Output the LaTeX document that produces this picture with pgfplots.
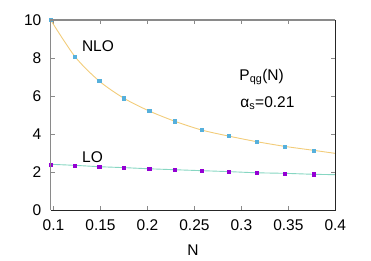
\documentclass[border=0pt]{standalone}
\usepackage{pgfplots}
\pgfplotsset{compat=1.18}
\usetikzlibrary{calc}
\usepackage{fontspec}
\setmainfont{Liberation Sans}
\definecolor{nloline}{HTML}{F2CC7A}
\definecolor{nlomark}{HTML}{56B0DC}
\definecolor{loline}{HTML}{86D6C2}
\definecolor{lomark}{HTML}{9400D3}
\definecolor{bordgray}{HTML}{8A8A8A}
\begin{document}
\fontsize{15.5}{18}\selectfont
\begin{tikzpicture}
\begin{axis}[
  name=ax,
  scale only axis,
  width=284.6pt, height=190pt,
  xmin=0.097, xmax=0.4,
  ymin=0, ymax=10,
  xtick={0.1,0.15,0.2,0.25,0.3,0.35,0.4},
  xticklabels={0.1,0.15,0.2,0.25,0.3,0.35,0.4},
  ytick={0,2,4,6,8,10},
  /pgf/number format/assume math mode=true,
  tick label style={font=\fontsize{15.5}{18}\selectfont},
  label style={font=\fontsize{15.5}{18}\selectfont},
  xlabel={N},
  xlabel style={yshift=-4pt},
  yticklabel style={xshift=-4pt},
  xticklabel style={yshift=-4pt},
  axis line style={draw=none},
  major tick length=4pt,
  tick style={bordgray, line width=0.6pt},
  clip=false,
]
% NLO curve
\addplot[nloline, line width=0.9pt, smooth, no marks] coordinates {
(0.097,10.0) (0.1229,8.07) (0.1486,6.79) (0.175,5.88) (0.2019,5.21)
(0.2292,4.67) (0.2577,4.21) (0.2865,3.89) (0.316,3.60) (0.346,3.35)
(0.377,3.14) (0.4,2.98)};
\addplot[only marks, mark=square*, mark size=1.6pt, nlomark] coordinates {
(0.097,10.0) (0.1229,8.07) (0.1486,6.79) (0.175,5.88) (0.2019,5.21)
(0.2292,4.67) (0.2577,4.21) (0.2865,3.89) (0.316,3.60) (0.346,3.35)
(0.377,3.14)};
% LO curve
\addplot[loline, line width=0.9pt, smooth, no marks] coordinates {
(0.097,2.405) (0.1229,2.35) (0.1486,2.28) (0.175,2.23) (0.2019,2.17)
(0.2292,2.12) (0.2577,2.07) (0.2865,2.02) (0.316,1.96) (0.346,1.93)
(0.377,1.88) (0.4,1.86)};
\addplot[only marks, mark=square*, mark size=1.6pt, lomark] coordinates {
(0.097,2.405) (0.1229,2.35) (0.1486,2.28) (0.175,2.23) (0.2019,2.17)
(0.2292,2.12) (0.2577,2.07) (0.2865,2.02) (0.316,1.96) (0.346,1.93)
(0.377,1.88)};
\node[anchor=center] at (axis cs:0.1473,8.6) {NLO};
\node[anchor=center] at (axis cs:0.1415,2.8) {LO};
\node[anchor=west, inner sep=0pt] at (axis cs:0.2977,7.0) {P\textsubscript{qg}(N)};
\node[anchor=west, inner sep=0pt] at (axis cs:0.2987,5.62) {α\textsubscript{s}=0.21};
\end{axis}
\draw[bordgray, line width=1.2pt] (ax.south west) -- (ax.north west) -- (ax.north east);
\draw[black!85, line width=1.0pt] (ax.north east) -- (ax.south east) -- (ax.south west);
\pgfresetboundingbox
\useasboundingbox ($(ax.south west)+(-50.7pt,-50pt)$) rectangle ($(ax.north east)+(35.7pt,20pt)$);
\end{tikzpicture}
\end{document}
